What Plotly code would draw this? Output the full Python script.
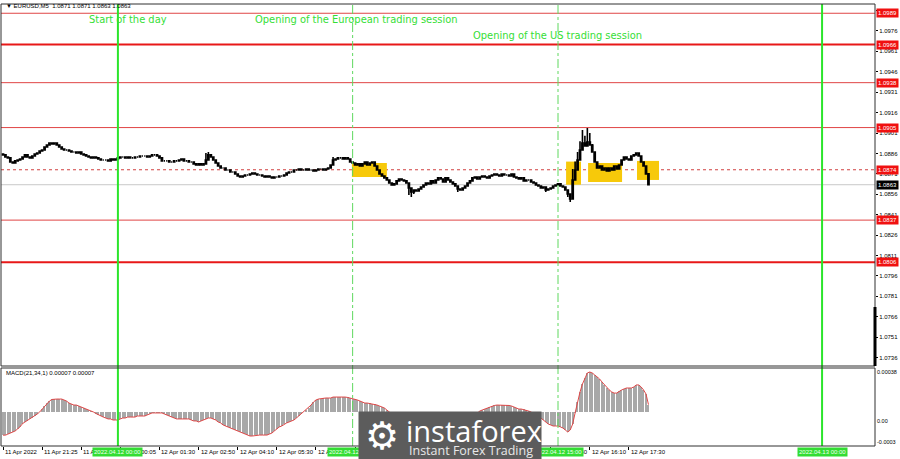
import plotly.graph_objects as go

# ---------------- data ----------------
header_text = "▼ EURUSD,M5  1.0871 1.0871 1.0863 1.0863"
macd_title = "MACD(21,34,1) 0.00007 0.00007"

first_open = 1.08856
close = [
    1.08849,1.08834,1.08827,1.08797,1.08790,1.08805,1.08812,1.08819,1.08834,1.08849,
    1.08834,1.08827,1.08841,1.08856,1.08863,1.08878,1.08885,1.08907,1.08922,1.08937,
    1.08930,1.08937,1.08922,1.08907,1.08893,1.08885,1.08885,1.08878,1.08871,1.08871,
    1.08863,1.08871,1.08856,1.08849,1.08841,1.08834,1.08827,1.08834,1.08827,1.08819,
    1.08812,1.08812,1.08812,1.08805,1.08819,1.08812,1.08819,1.08827,1.08834,1.08834,
    1.08827,1.08834,1.08827,1.08827,1.08834,1.08834,1.08841,1.08841,1.08841,1.08834,
    1.08841,1.08849,1.08849,1.08841,1.08827,1.08805,1.08805,1.08805,1.08797,1.08797,
    1.08805,1.08805,1.08812,1.08819,1.08805,1.08805,1.08797,1.08797,1.08783,1.08775,
    1.08783,1.08775,1.08783,1.08812,1.08849,1.08834,1.08812,1.08790,1.08768,1.08753,
    1.08753,1.08738,1.08738,1.08724,1.08724,1.08709,1.08694,1.08687,1.08694,1.08702,
    1.08702,1.08709,1.08716,1.08709,1.08702,1.08702,1.08694,1.08687,1.08694,1.08687,
    1.08680,1.08687,1.08687,1.08694,1.08694,1.08702,1.08716,1.08724,1.08724,1.08738,
    1.08738,1.08746,1.08738,1.08738,1.08746,1.08738,1.08738,1.08731,1.08738,1.08746,
    1.08746,1.08738,1.08746,1.08753,1.08775,1.08812,1.08819,1.08827,1.08827,1.08819,
    1.08827,1.08819,1.08797,1.08790,1.08775,1.08783,1.08768,1.08783,1.08797,1.08775,
    1.08790,1.08797,1.08768,1.08738,1.08709,1.08694,1.08680,1.08665,1.08643,1.08628,
    1.08636,1.08658,1.08672,1.08665,1.08658,1.08643,1.08606,1.08577,1.08591,1.08584,
    1.08599,1.08613,1.08628,1.08643,1.08636,1.08658,1.08643,1.08665,1.08680,1.08672,
    1.08650,1.08680,1.08665,1.08650,1.08636,1.08621,1.08599,1.08591,1.08606,1.08621,
    1.08643,1.08658,1.08680,1.08687,1.08672,1.08687,1.08694,1.08687,1.08680,1.08694,
    1.08702,1.08709,1.08702,1.08694,1.08709,1.08702,1.08702,1.08694,1.08709,1.08687,
    1.08680,1.08672,1.08680,1.08658,1.08665,1.08665,1.08650,1.08643,1.08628,1.08621,
    1.08606,1.08613,1.08591,1.08599,1.08606,1.08621,1.08628,1.08636,1.08621,1.08613,
    1.08591,1.08562,1.08525,1.08665,1.08738,1.08812,1.08885,1.08937,1.08915,1.08944,
    1.08922,1.08871,1.08797,1.08753,1.08768,1.08738,1.08753,1.08731,1.08753,1.08738,
    1.08768,1.08746,1.08775,1.08812,1.08834,1.08819,1.08812,1.08841,1.08849,1.08863,
    1.08841,1.08797,1.08768,1.08710,1.08630,
]
wick_high = {83: 1.08863, 84: 1.08871, 135: 1.08834, 233: 1.08745, 234: 1.08800,
             235: 1.08870, 236: 1.08950, 237: 1.09032, 238: 1.08990, 239: 1.09047,
             240: 1.09010, 241: 1.08930}
wick_low = {166: 1.08555, 167: 1.08540, 168: 1.08562, 186: 1.08577, 222: 1.08577,
            231: 1.08540, 232: 1.08503}

# MACD(21,34,1) main value, in units of 1e-5
macd_e5 = [
    -22,-22,-21,-20,-19,-18,-16,-14,-11,-9.5,
    -8.5,-6.6,-5.7,-3.8,-1.9,0,2.8,5.7,8.5,10.4,
    11.9,12.3,12.3,12.3,12.3,11.4,10.4,8.5,7.6,6.6,
    6.6,5.7,4.8,3.8,2.8,1.9,0.9,0,-1.4,-2.8,
    -3.8,-4.8,-5.7,-6.6,-6.6,-7.6,-7.6,-7.6,-6.6,-5.7,
    -5.7,-4.8,-4.8,-4.8,-4.8,-3.8,-3.8,-3.8,-3.8,-2.8,
    -1.9,-0.9,-0.9,-0.9,-0.9,-0.9,-1.9,-2.8,-3.8,-4.8,
    -5.7,-6.6,-6.6,-6.6,-6.6,-6.6,-6.6,-7.6,-8.5,-8.5,
    -9.5,-8.5,-7.6,-6.6,-5.7,-5.7,-6.6,-7.6,-9.5,-10.4,
    -12.3,-13.3,-14.2,-15.2,-16.1,-17.1,-18,-19,-20,-20.9,
    -21.9,-22.8,-22.8,-22.3,-21.9,-21.9,-21.9,-21.9,-21.9,-20.9,
    -20,-18,-16.1,-14.2,-13.3,-11.4,-10.4,-9.5,-8.5,-7.6,
    -5.7,-3.8,-1.9,0,1.9,3.8,6.6,9.5,11.4,12.3,
    12.8,13.3,13.3,13.3,13.3,14.2,14.2,14.7,14.7,14.2,
    14.2,13.8,13.3,12.8,12.3,11.4,10.4,9.5,8.5,8.5,
    8.1,7.6,7.6,6.6,5.7,4.8,3.8,1.9,0,-1.9,
    -3.8,-5.7,-6.6,-7.6,-8.5,-9.5,-11.4,-13.3,-15.2,-16.1,
    -17.1,-17.1,-17.1,-17.1,-17.1,-16.1,-16.1,-15.2,-14.2,-13.3,
    -13.3,-12.3,-12.3,-12.3,-12.3,-13.3,-13.3,-13.3,-12.3,-10.4,
    -8.5,-6.6,-4.8,-2.8,-0.9,0.9,1.9,2.8,3.8,4.8,
    5.7,6.2,6.6,6.6,6.6,6.6,6.6,6.2,5.7,4.8,
    3.8,2.8,2.8,2.4,1.9,0.9,0,-1.9,-2.8,-3.8,
    -5.7,-7.6,-9.5,-11.4,-12.3,-13.3,-13.3,-13.3,-14.2,-15.2,
    -17.1,-19,-17.1,-11.4,-0.9,9.5,19,26.6,32.3,37.1,
    38,37.1,35.2,33.3,31.4,28.5,25.7,22.8,20.9,19,
    18,18,19.9,20.9,21.9,22.8,22.8,22.8,23.8,25.7,
    25.7,23.8,20.9,17.1,7,
]

# time axis labels (bar index -> label)
time_label_bars = [0, 16, 32, 48, 64, 80, 96, 112, 128, 144, 160, 176, 192, 208, 224, 240, 256]
time_labels = ["11 Apr 2022", "11 Apr 21:25", "11 Apr 22:45", "12 Apr 00:05", "12 Apr 01:30",
               "12 Apr 02:50", "12 Apr 04:10", "12 Apr 05:30", "12 Apr 06:50", "12 Apr 08:10",
               "12 Apr 09:30", "12 Apr 10:50", "12 Apr 12:10", "12 Apr 13:30", "12 Apr 14:50",
               "12 Apr 16:10", "12 Apr 17:30"]

price_ticks = [1.0736, 1.0751, 1.0766, 1.0781, 1.0796, 1.0811, 1.0826, 1.0841, 1.0856,
               1.0871, 1.0886, 1.0901, 1.0916, 1.0931, 1.0946, 1.0961, 1.0976, 1.0991]

# vertical time markers
marker_bars = [47, 143, 227, 335]
marker_labels = ["2022.04.12 00:00", "2022.04.12 08:00", "2022.04.12 15:00", "2022.04.13 00:00"]
marker_dashed = [False, True, True, False]

# text notes (anchor bar, anchor price)
note_texts = ["Start of the day", "Opening of the European trading session",
              "Opening of the US trading session"]
note_bars = [34.4, 102.2, 191.4]
note_prices = [1.09841, 1.09841, 1.09723]

# horizontal levels
levels = [1.0989, 1.0966, 1.0938, 1.0905, 1.0837, 1.0806]
level_bold = [False, True, False, False, False, True]
pivot_level = 1.0874
bid_level = 1.0863

# signal zones
zone_start = [142.7, 230.3, 239.3, 259.3]
zone_end = [157.0, 236.4, 253.2, 268.3]
zone_top = [1.0879, 1.0880, 1.0879, 1.08805]
zone_bottom = [1.08687, 1.0863, 1.0865, 1.08665]

# ---------------- derived ----------------
n = len(close)
bars = list(range(n))
opens = [first_open] + close[:-1]
highs = [max(o, c) for o, c in zip(opens, close)]
lows = [min(o, c) for o, c in zip(opens, close)]
for k, v in wick_high.items():
    highs[k] = max(highs[k], v)
for k, v in wick_low.items():
    lows[k] = min(lows[k], v)
macd = [v * 1e-5 for v in macd_e5]

# ---------------- layout geometry ----------------
W, H = 900, 459
ML, MR, MT, MB = 1, 25, 4, 13
plot_h = H - MT - MB  # 442
def py(px):  # pixel row -> paper y
    return (H - MB - px) / plot_h
def pxx(px):  # pixel column -> paper x
    return (px - ML) / (W - ML - MR)

main_dom = [py(366), 1.0]
macd_dom = [0.0, py(368)]

small_font = "Liberation Sans, Arial, sans-serif"
note_font = "DejaVu Sans Condensed, Liberation Sans Narrow, sans-serif"
fig = go.Figure()

fig.add_trace(go.Candlestick(
    x=bars, open=opens, high=highs, low=lows, close=close,
    increasing=dict(line=dict(color="black", width=1.6), fillcolor="white"),
    decreasing=dict(line=dict(color="black", width=1.6), fillcolor="black"),
    whiskerwidth=0, xaxis="x", yaxis="y", showlegend=False, hoverinfo="skip"))

fig.add_trace(go.Bar(x=bars, y=macd, width=0.5, marker=dict(color="#A8A8A8", line=dict(width=0)),
                     xaxis="x", yaxis="y2", showlegend=False, hoverinfo="skip"))
fig.add_trace(go.Scatter(x=bars, y=macd, mode="lines", line=dict(color="#E04848", width=1),
                         xaxis="x", yaxis="y2", showlegend=False, hoverinfo="skip"))

shapes = []
for s, e, t, b in zip(zone_start, zone_end, zone_top, zone_bottom):
    shapes.append(dict(type="rect", xref="x", yref="y", x0=s, x1=e, y0=b, y1=t,
                       fillcolor="#F7C90A", line=dict(width=0), layer="below"))
for lv, bold in zip(levels, level_bold):
    shapes.append(dict(type="line", xref="paper", yref="y", x0=0, x1=1, y0=lv, y1=lv,
                       line=dict(color="#E81818" if bold else "#E04545", width=2 if bold else 1),
                       layer="below"))
shapes.append(dict(type="line", xref="paper", yref="y", x0=0, x1=1, y0=pivot_level, y1=pivot_level,
                   line=dict(color="#D04040", width=1, dash="dot"), layer="below"))
shapes.append(dict(type="line", xref="paper", yref="y", x0=0, x1=1, y0=bid_level, y1=bid_level,
                   line=dict(color="#C8C8C8", width=1), layer="below"))
for b, dashed in zip(marker_bars, marker_dashed):
    if dashed:
        ln = dict(color="#5FD85F", width=1, dash="dashdot")
    else:
        ln = dict(color="#2BE52B", width=2)
    shapes.append(dict(type="line", xref="x", yref="paper", x0=b, x1=b, y0=0, y1=1,
                       line=ln, layer="above"))
shapes.append(dict(type="rect", xref="paper", yref="paper", x0=0, x1=1, y0=main_dom[0], y1=1,
                   line=dict(color="#303030", width=1)))
shapes.append(dict(type="rect", xref="paper", yref="paper", x0=0, x1=1, y0=0, y1=macd_dom[1],
                   line=dict(color="#303030", width=1)))
shapes.append(dict(type="line", xref="paper", yref="paper", x0=1, x1=1, y0=py(307), y1=py(366),
                   line=dict(color="black", width=3)))

ann = []
ann.append(dict(text=header_text, xref="paper", yref="paper", x=pxx(4), y=py(6.5),
                xanchor="left", yanchor="middle", showarrow=False,
                font=dict(size=6, color="black", family=small_font)))
ann.append(dict(text=macd_title, xref="paper", yref="paper", x=pxx(4), y=py(372.5),
                xanchor="left", yanchor="middle", showarrow=False,
                font=dict(size=6, color="black", family=small_font)))
for t, b, p in zip(note_texts, note_bars, note_prices):
    ann.append(dict(text=t, xref="x", yref="y", x=b, y=p, xanchor="left", yanchor="middle",
                    showarrow=False, font=dict(size=11, color="#35DE35", family=note_font)))
for lv in levels + [pivot_level]:
    ann.append(dict(text=f"{lv:.4f}", xref="paper", yref="y", x=1, y=lv, xanchor="left",
                    yanchor="middle", xshift=1, showarrow=False, bgcolor="#F01010", borderpad=1,
                    font=dict(size=6, color="white", family=small_font)))
ann.append(dict(text=f"{bid_level:.4f}", xref="paper", yref="y", x=1, y=bid_level, xanchor="left",
                yanchor="middle", xshift=1, showarrow=False, bgcolor="black", borderpad=1,
                font=dict(size=6, color="white", family=small_font)))
for txt, ypx in [("0.00038", 372), ("0.00", 421), ("-0.0003", 442)]:
    ann.append(dict(text=txt, xref="paper", yref="paper", x=1, y=py(ypx), xanchor="left",
                    yanchor="middle", xshift=0, showarrow=False,
                    font=dict(size=5.5, color="black", family=small_font)))
for b, t in zip(time_label_bars, time_labels):
    ann.append(dict(text=t, xref="x", yref="paper", x=b, y=py(452), xanchor="left",
                    yanchor="middle", xshift=0, showarrow=False,
                    font=dict(size=6, color="black", family=small_font)))
for b, t in zip(marker_bars, marker_labels):
    ann.append(dict(text=t, xref="x", yref="paper", x=b, y=py(452), xanchor="center",
                    yanchor="middle", showarrow=False, bgcolor="#33DD33", borderpad=1,
                    font=dict(size=6, color="#F0FFF0", family=small_font)))
ann.append(dict(text=" ", xref="paper", yref="paper", x=pxx(450), y=py(436), xanchor="center",
                yanchor="middle", width=180, height=46, bgcolor="#5C5C5C", showarrow=False))
ann.append(dict(text="instaforex", xref="paper", yref="paper", x=pxx(404), y=py(430),
                xanchor="left", yanchor="middle", showarrow=False,
                font=dict(size=29, color="white", family="Open Sans, Lato, sans-serif")))
ann.append(dict(text="Instant Forex Trading", xref="paper", yref="paper", x=pxx(407), y=py(450),
                xanchor="left", yanchor="middle", showarrow=False,
                font=dict(size=12.5, color="#E8E8E8", family="Open Sans, Lato, sans-serif")))
ann.append(dict(text="⚙", xref="paper", yref="paper", x=pxx(382), y=py(436),
                xanchor="center", yanchor="middle", showarrow=False,
                font=dict(size=38, color="white", family="DejaVu Sans")))

fig.update_layout(
    width=W, height=H, margin=dict(l=ML, r=MR, t=MT, b=MB),
    paper_bgcolor="white", plot_bgcolor="white",
    shapes=shapes, annotations=ann, bargap=0,
    xaxis=dict(range=[-0.818, 356.65], domain=[0, 1], anchor="y2", showgrid=False, zeroline=False,
               showline=False, ticks="outside", ticklen=3, tickcolor="black",
               tickvals=time_label_bars, showticklabels=False,
               rangeslider=dict(visible=False), fixedrange=True),
    yaxis=dict(domain=main_dom, range=[1.07298, 1.09958], side="right", anchor="x",
               showgrid=False, zeroline=False, showline=False,
               tickvals=price_ticks, ticktext=[f"{v:.4f}" for v in price_ticks],
               ticks="outside", ticklen=2, tickcolor="black",
               tickfont=dict(size=6, color="black", family=small_font)),
    yaxis2=dict(domain=macd_dom, range=[-0.000323, 0.000418], anchor="x", showgrid=False,
                zeroline=False, showline=False, showticklabels=False),
)

fig.write_html("out.html", config={"displayModeBar": False},
               post_script="document.body.style.margin='0';document.body.style.overflow='hidden';")
